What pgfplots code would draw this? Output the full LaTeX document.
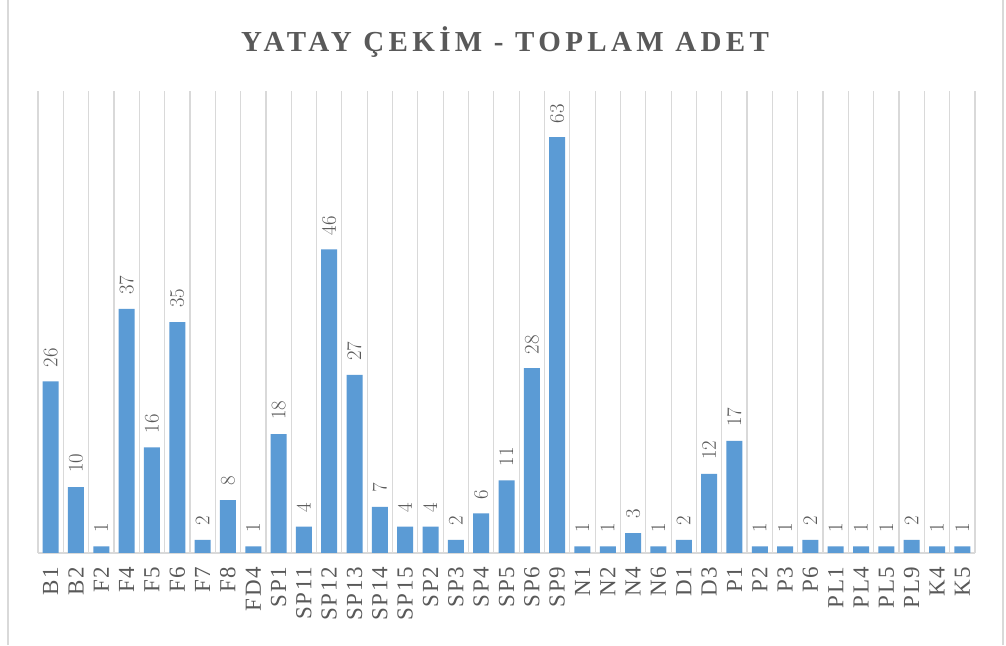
\documentclass[border=0pt]{standalone}
\usepackage{pgfplots}
\pgfplotsset{compat=1.18}
\usepackage{pgfplotstable}
\usepackage{fontspec}
\setmainfont{Liberation Serif}
\definecolor{barblue}{HTML}{5B9BD5}
\definecolor{txtgray}{HTML}{595959}
\definecolor{gridgray}{HTML}{D9D9D9}

\pgfplotstableread{
idx name val
0 B1 26
1 B2 10
2 F2 1
3 F4 37
4 F5 16
5 F6 35
6 F7 2
7 F8 8
8 FD4 1
9 SP1 18
10 SP11 4
11 SP12 46
12 SP13 27
13 SP14 7
14 SP15 4
15 SP2 4
16 SP3 2
17 SP4 6
18 SP5 11
19 SP6 28
20 SP9 63
21 N1 1
22 N2 1
23 N4 3
24 N6 1
25 D1 2
26 D3 12
27 P1 17
28 P2 1
29 P3 1
30 P6 2
31 PL1 1
32 PL4 1
33 PL5 1
34 PL9 2
35 K4 1
36 K5 1
}\yataydata

\begin{document}
\begin{tikzpicture}
\useasboundingbox (0,0) rectangle (1006pt,645pt);
\fill[white] (0,0) rectangle (1006pt,645pt);
% chart frame
\draw[gridgray, line width=1.2pt] (8pt,0) -- (8pt,645pt);
\draw[gridgray, line width=1.2pt] (1003pt,0) -- (1003pt,645pt);

\node[text=txtgray, font=\fontsize{29}{34}\selectfont\bfseries\addfontfeatures{LetterSpace=15}]
  at (505pt,603pt) {YATAY ÇEKİM - TOPLAM ADET};

\begin{axis}[
    at={(38pt,92pt)}, anchor=south west,
    scale only axis, width=937pt, height=462pt,
    xmin=-0.5, xmax=36.5, ymin=0, ymax=70,
    axis y line=none, axis x line=bottom,
    x axis line style={draw=gridgray, line width=1.5pt, -},
    xtick=data,
    xticklabels from table={\yataydata}{name},
    major tick length=0pt,
    minor xtick={-0.5,0.5,...,36.5},
    minor tick length=0pt,
    xminorgrids,
    minor grid style={gridgray, line width=1.2pt},
    xticklabel style={rotate=90, anchor=east, text=txtgray,
      font=\fontsize{23}{27}\selectfont\addfontfeatures{LetterSpace=8}},
    xticklabel shift=10pt,
    ytick=\empty,
    ybar, bar width=16pt,
    nodes near coords,
    nodes near coords style={rotate=90, anchor=west, inner sep=14pt, text=txtgray,
      font=\fontsize{22}{26}\selectfont\addfontfeatures{LetterSpace=4}},
    clip=false,
]
\addplot[fill=barblue, draw=none] table[x=idx, y=val] {\yataydata};
\end{axis}
\end{tikzpicture}
\end{document}
